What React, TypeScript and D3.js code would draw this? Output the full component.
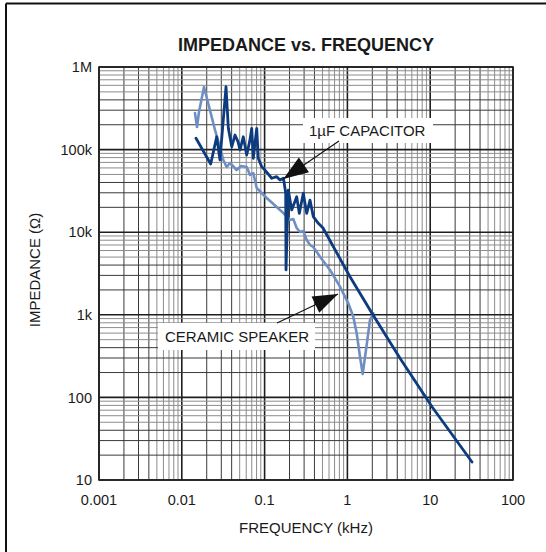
import React from "react";
import * as d3 from "d3";

// Axis ticks
const freqTicks = [0.001, 0.01, 0.1, 1, 10, 100];
const freqTickLabels = ["0.001", "0.01", "0.1", "1", "10", "100"];
const impTicks = [10, 100, 1000, 10000, 100000, 1000000];
const impTickLabels = ["10", "100", "1k", "10k", "100k", "1M"];

// 1µF capacitor (kHz, ohms)
const capFreq = [
  0.01484, 0.02234, 0.0264, 0.0289, 0.0342, 0.0365, 0.0401, 0.0439, 0.0477, 0.0505,
  0.0553, 0.0608, 0.0666, 0.0699, 0.073, 0.0803, 0.0839, 0.0923, 0.101, 0.122,
  0.14, 0.1535, 0.1682, 0.1715, 0.1798, 0.1814, 0.1933, 0.2125, 0.2442, 0.2625,
  0.2934, 0.3225, 0.3535, 0.3874, 0.4452, 0.5074, 1.075, 1.982, 4.318, 10.51, 31.97,
];
const capZ = [
  137000, 67000, 143000, 75000, 577000, 181000, 108000, 150000, 125000, 99000,
  143000, 86000, 131000, 181000, 78500, 181000, 78500, 62000, 56600, 45000,
  47000, 42850, 44900, 40900, 29800, 3500, 32400, 18600, 26900, 16900,
  29600, 16900, 24500, 15400, 12800, 11240, 2892, 1043, 297, 77, 16.5,
];

// Ceramic speaker (kHz, ohms)
const spkFreq = [
  0.01443, 0.01526, 0.01613, 0.01854, 0.02297, 0.02518, 0.02893, 0.03171, 0.03486, 0.0382,
  0.04603, 0.05188, 0.06079, 0.06663, 0.07302, 0.08028, 0.106, 0.14, 0.1682, 0.2027,
  0.2222, 0.2442, 0.2676, 0.2934, 0.3225, 0.3535, 0.3874, 0.4668, 0.6165, 0.8137,
  1.025, 1.178, 1.295, 1.42, 1.53, 1.677, 1.875, 2.055,
];
const spkZ = [
  277400, 187700, 285200, 572700, 248100, 172700, 107500, 74800, 61560, 68800,
  56600, 63320, 61560, 49270, 52090, 34290, 25940, 20200, 17080, 14050,
  14440, 11240, 10060, 10340, 8045, 6998, 6620, 5050, 3487, 2189,
  1378, 948, 597, 311, 192, 375, 865, 1043,
];

// Annotations (data units)
const capLabel = "1µF CAPACITOR";
const capLabelAt = [0.3438, 146100];
const capArrowTail = [0.7915, 127100];
const capArrowTip = [0.1682, 44060];
const spkLabel = "CERAMIC SPEAKER";
const spkLabelAt = [0.00627, 475];
const spkArrowTail = [0.1412, 796];
const spkArrowTip = [0.77, 1785];

const FONT = "'Liberation Sans', Arial, Helvetica, sans-serif";
const DARK = "#0d3b80";
const LIGHT = "#6f8fc3";

function leadDigit(v: number) {
  const p = Math.pow(10, Math.floor(Math.log10(v) + 1e-9));
  return Math.round(v / p);
}

function arrowHead(tail: number[], tip: number[], len: number, half: number) {
  const dx = tip[0] - tail[0];
  const dy = tip[1] - tail[1];
  const L = Math.hypot(dx, dy);
  const ux = dx / L, uy = dy / L;
  const bx = tip[0] - ux * len, by = tip[1] - uy * len;
  const px = -uy, py = ux;
  return `M${tip[0]},${tip[1]}L${bx + px * half},${by + py * half}L${bx - px * half},${by - py * half}Z`;
}

export default function App() {
  const W = 546, H = 552;
  const x = d3.scaleLog().domain([0.001, 100]).range([99, 513]);
  const y = d3.scaleLog().domain([10, 1e6]).range([480, 67]);
  const [x0, x1] = x.range();
  const [y0, y1] = y.range();

  const xGrid = x.ticks();
  const yGrid = y.ticks();

  const line = d3
    .line<number[]>()
    .x((d) => x(d[0]))
    .y((d) => y(d[1]));

  const capPts = capFreq.map((f, i) => [f, capZ[i]]);
  const spkPts = spkFreq.map((f, i) => [f, spkZ[i]]);

  const gridStyle = (v: number) => {
    const k = leadDigit(v);
    if (k === 1 || k === 10) return { stroke: "#1e1e1e", w: 1.6 };
    if (k <= 4) return { stroke: "#3a3a3a", w: 1 };
    return { stroke: "#8c8c8c", w: 1 };
  };

  const px = (d: number[]) => [x(d[0]), y(d[1])];
  const cTail = px(capArrowTail), cTip = px(capArrowTip);
  const sTail = px(spkArrowTail), sTip = px(spkArrowTip);
  const cLab = px(capLabelAt), sLab = px(spkLabelAt);

  return (
    <svg
      width={W}
      height={H}
      viewBox={`0 0 ${W} ${H}`}
      style={{ position: "absolute", left: 0, top: 0, background: "#fff" }}
    >
      <rect x={0} y={0} width={W} height={H} fill="#fff" />
      {/* outer frame */}
      <line x1={6} y1={3.5} x2={W} y2={3.5} stroke="#111" strokeWidth={2} />
      <line x1={6} y1={3.5} x2={6} y2={H} stroke="#111" strokeWidth={2} />

      <text
        x={306}
        y={51}
        textAnchor="middle"
        fontFamily={FONT}
        fontWeight="bold"
        fontSize={18}
        fill="#1a1a1a"
      >
        IMPEDANCE vs. FREQUENCY
      </text>

      {/* grid */}
      <g>
        {xGrid.map((v, i) => {
          const s = gridStyle(v);
          return (
            <line key={"vx" + i} x1={x(v)} x2={x(v)} y1={y1} y2={y0} stroke={s.stroke} strokeWidth={s.w} />
          );
        })}
        {yGrid.map((v, i) => {
          const s = gridStyle(v);
          return (
            <line key={"hy" + i} x1={x0} x2={x1} y1={y(v)} y2={y(v)} stroke={s.stroke} strokeWidth={s.w} />
          );
        })}
        <rect x={x0} y={y1} width={x1 - x0} height={y0 - y1} fill="none" stroke="#1e1e1e" strokeWidth={1.6} />
      </g>

      {/* label boxes */}
      <rect x={cLab[0] - 6} y={cLab[1] - 18} width={130} height={25} fill="#fff" />
      <rect x={sLab[0] - 7} y={sLab[1] - 18.5} width={157} height={27} fill="#fff" />

      {/* curves */}
      <path d={line(spkPts) || ""} fill="none" stroke={LIGHT} strokeWidth={2.6} strokeLinejoin="round" strokeLinecap="round" />
      <path d={line(capPts) || ""} fill="none" stroke={DARK} strokeWidth={2.8} strokeLinejoin="round" strokeLinecap="round" />

      {/* arrows */}
      <line x1={cTail[0]} y1={cTail[1]} x2={cTip[0]} y2={cTip[1]} stroke="#111" strokeWidth={1.1} />
      <path d={arrowHead(cTail, cTip, 25, 9)} fill="#111" />
      <line x1={sTail[0]} y1={sTail[1]} x2={sTip[0]} y2={sTip[1]} stroke="#111" strokeWidth={1.1} />
      <path d={arrowHead(sTail, sTip, 25, 9)} fill="#111" />

      {/* annotation text */}
      <text x={cLab[0]} y={cLab[1]} fontFamily={FONT} fontSize={15} fill="#1a1a1a">
        {capLabel}
      </text>
      <text x={sLab[0]} y={sLab[1]} fontFamily={FONT} fontSize={15} fill="#1a1a1a">
        {spkLabel}
      </text>

      {/* x tick labels */}
      {freqTicks.map((v, i) => (
        <text key={"xt" + i} x={x(v)} y={504.5} textAnchor="middle" fontFamily={FONT} fontSize={14.5} fill="#1a1a1a">
          {freqTickLabels[i]}
        </text>
      ))}
      {/* y tick labels */}
      {impTicks.map((v, i) => (
        <text
          key={"yt" + i}
          x={x0 - 7}
          y={y(v)}
          dy="0.36em"
          textAnchor="end"
          fontFamily={FONT}
          fontSize={14.5}
          fill="#1a1a1a"
        >
          {impTickLabels[i]}
        </text>
      ))}

      {/* axis titles */}
      <text x={306} y={533} textAnchor="middle" fontFamily={FONT} fontSize={15} fill="#1a1a1a">
        FREQUENCY (kHz)
      </text>
      <text
        transform={`translate(39.5,270) rotate(-90)`}
        textAnchor="middle"
        fontFamily={FONT}
        fontSize={15}
        fill="#1a1a1a"
      >
        IMPEDANCE (Ω)
      </text>
    </svg>
  );
}
